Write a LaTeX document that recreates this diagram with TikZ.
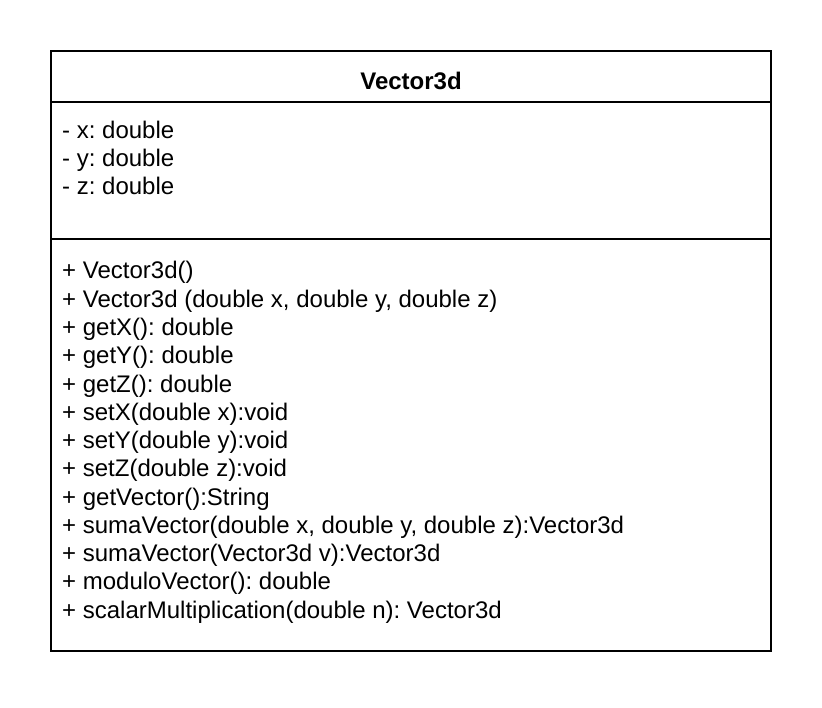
\documentclass[tikz,border=0pt]{standalone}
\usepackage{fontspec}
\setmainfont{Liberation Sans}
\frenchspacing
\begin{document}
\begin{tikzpicture}[x=1pt,y=-1pt,
  frame/.style={draw=black,line width=2pt},
  member/.style={anchor=base west,inner sep=0pt,font=\frenchspacing\fontsize{24}{28}\selectfont},
  title/.style={anchor=base,inner sep=0pt,font=\fontsize{24}{28}\selectfont\bfseries}]
\useasboundingbox[fill=white] (0,0) rectangle (822,708);
\coordinate (tl) at (51,51); \coordinate (br) at (771,651);
\draw[frame] (tl) rectangle (br);
\coordinate (d1l) at (51,102); \coordinate (d1r) at (771,102);
\coordinate (d2l) at (51,239); \coordinate (d2r) at (771,239);
\draw[frame] (d1l) -- (d1r);
\draw[frame] (d2l) -- (d2r);
\node[title] (t) at (411,90) {Vector3d};
\node[member] (a1) at (62,139) {- x: double};
\node[member] (a2) at (62,167) {- y: double};
\node[member] (a3) at (62,195) {- z: double};
\foreach \i/\txt in {0/{+ Vector3d()},1/{+ Vector3d (double x, double y, double z)},2/{+ getX(): double},3/{+ getY(): double},4/{+ getZ(): double},5/{+ setX(double x):void},6/{+ setY(double y):void},7/{+ setZ(double z):void},8/{+ getVector():String},9/{+ sumaVector(double x, double y, double z):Vector3d},10/{+ sumaVector(Vector3d v):Vector3d},11/{+ moduloVector(): double},12/{+ scalarMultiplication(double n): Vector3d}}
  \node[member] (m\i) at (62,279+28.25*\i) {\txt};
\end{tikzpicture}
\end{document}
